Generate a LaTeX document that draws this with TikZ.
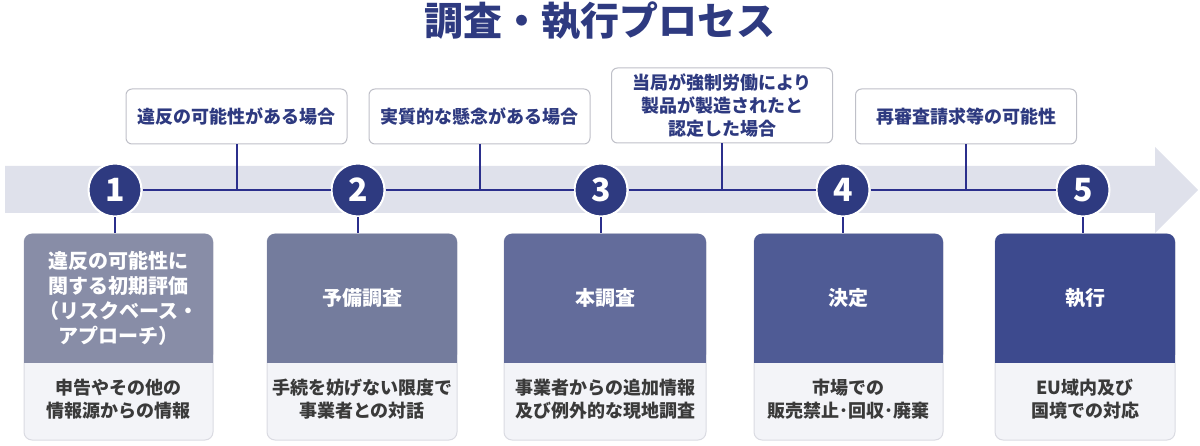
\documentclass[tikz,border=0pt]{standalone}
\usepackage{fontspec}
\setmainfont{Noto Sans CJK JP}
\usetikzlibrary{positioning}

\definecolor{navy}{HTML}{2E3A80}
\definecolor{linkblue}{HTML}{2B2F8C}
\definecolor{bandgray}{HTML}{DFE1EB}
\definecolor{framegray}{HTML}{BFC0C8}
\definecolor{cardgray}{HTML}{F3F4F8}
\definecolor{cardframe}{HTML}{DADBE2}
\definecolor{bodytext}{HTML}{3A3A3A}
\definecolor{stepA}{HTML}{888DA7}
\definecolor{stepB}{HTML}{747C9D}
\definecolor{stepC}{HTML}{636C9B}
\definecolor{stepD}{HTML}{4F5B95}
\definecolor{stepE}{HTML}{3D4A8E}

\tikzstyle{stepcircle}=[circle, fill=navy, draw=white, line width=2, minimum size=53, inner sep=0, text=white, font=\fontsize{32}{32}\selectfont\bfseries]
\tikzstyle{casebox}=[draw=framegray, line width=1, rounded corners=6, fill=white, minimum width=221, text=navy, align=center, font=\fontsize{18}{23}\selectfont\bfseries]
\tikzstyle{card}=[draw=cardframe, line width=1, rounded corners=8, fill=cardgray, minimum height=206, inner sep=0]
\tikzstyle{stepbox}=[rounded corners=8, minimum height=129, inner sep=0, text=white, align=center, anchor=north, font=\fontsize{20}{25}\selectfont\bfseries]
\tikzstyle{stepnote}=[minimum height=77, inner sep=0, text=bodytext, align=center, anchor=south, font=\fontsize{18}{23}\selectfont\bfseries]
\tikzstyle{link}=[linkblue, line width=2]

\begin{document}
\begin{tikzpicture}[x=1pt, y=-1pt]
  \useasboundingbox (0,0) rectangle (1200,446);

  % arrow band
  \fill[bandgray] (5,166) -- (1155,166) -- (1155,147) -- (1198,190) -- (1155,233) -- (1155,213) -- (5,213) -- cycle;

  \node[text=navy, font=\fontsize{39}{39}\selectfont\bfseries] (title) at (600,21) {調査・執行プロセス};

  % steps on the band
  \node[stepcircle] (c1) at (115,190) {1};
  \node[stepcircle] (c2) at (358,190) {2};
  \node[stepcircle] (c3) at (601,190) {3};
  \node[stepcircle] (c4) at (843,190) {4};
  \node[stepcircle] (c5) at (1083,190) {5};

  % cases above
  \node[casebox, minimum height=55] (t1) at (236.5,116.5) {違反の可能性がある場合};
  \node[casebox, minimum height=55] (t2) at (479.5,116.5) {実質的な懸念がある場合};
  \node[casebox, minimum height=75] (t3) at (722,105.5) {当局が強制労働により\\製品が製造されたと\\認定した場合};
  \node[casebox, minimum height=55] (t4) at (966,116.5) {再審査請求等の可能性};

  % cards below
  \node[card, minimum width=189] (k1) at (118.5,337) {};
  \node[card, minimum width=190] (k2) at (362,337) {};
  \node[card, minimum width=202] (k3) at (605,337) {};
  \node[card, minimum width=189] (k4) at (848.5,337) {};
  \node[card, minimum width=180] (k5) at (1085,337) {};

  \node[stepbox, fill=stepA, minimum width=189] (b1) at (k1.north) {違反の可能性に\\関する初期評価\\（リスクベース・\\アプローチ）};
  \node[stepbox, fill=stepB, minimum width=190] (b2) at (k2.north) {予備調査};
  \node[stepbox, fill=stepC, minimum width=202] (b3) at (k3.north) {本調査};
  \node[stepbox, fill=stepD, minimum width=189] (b4) at (k4.north) {決定};
  \node[stepbox, fill=stepE, minimum width=180] (b5) at (k5.north) {執行};
  \fill[stepA] ([yshift=10pt]b1.south west) rectangle (b1.south east);
  \fill[stepB] ([yshift=10pt]b2.south west) rectangle (b2.south east);
  \fill[stepC] ([yshift=10pt]b3.south west) rectangle (b3.south east);
  \fill[stepD] ([yshift=10pt]b4.south west) rectangle (b4.south east);
  \fill[stepE] ([yshift=10pt]b5.south west) rectangle (b5.south east);

  \node[stepnote, yshift=3pt] (d1) at (k1.south) {申告やその他の\\情報源からの情報};
  \node[stepnote, yshift=3pt] (d2) at (k2.south) {手続を妨げない限度で\\事業者との対話};
  \node[stepnote, yshift=3pt] (d3) at (k3.south) {事業者からの追加情報\\及び例外的な現地調査};
  \node[stepnote, yshift=3pt] (d4) at (k4.south) {市場での\\販売禁止･回収･廃棄};
  \node[stepnote, yshift=3pt] (d5) at (k5.south) {EU域内及び\\国境での対応};

  % connectors
  \draw[link] (c1) -- (c2) (c2) -- (c3) (c3) -- (c4) (c4) -- (c5);
  \draw[link] (t1) -- (t1 |- c1);
  \draw[link] (t2) -- (t2 |- c2);
  \draw[link] (t3) -- (t3 |- c3);
  \draw[link] (t4) -- (t4 |- c4);
  \draw[link] (c1) -- (c1 |- k1.north);
  \draw[link] (c2) -- (c2 |- k2.north);
  \draw[link] (c3) -- (c3 |- k3.north);
  \draw[link] (c4) -- (c4 |- k4.north);
  \draw[link] (c5) -- (c5 |- k5.north);
\end{tikzpicture}
\end{document}
